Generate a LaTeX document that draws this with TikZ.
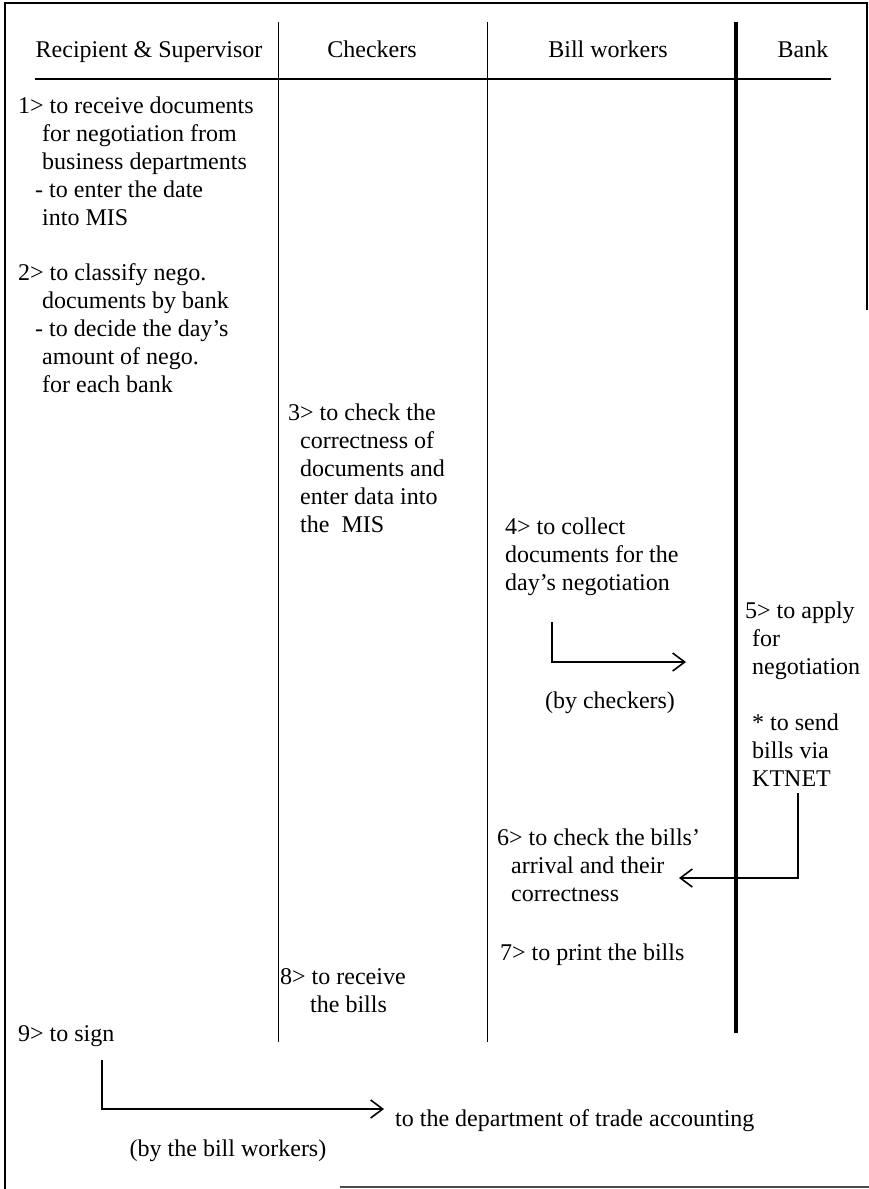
\documentclass[tikz,border=0pt]{standalone}
\usepackage{fontspec}
\setmainfont{Liberation Serif}
\usetikzlibrary{arrows.meta}
\begin{document}
\begin{tikzpicture}[x=1pt,y=-1pt,
  txt/.style={inner sep=0pt, align=left, anchor=north west, font=\fontsize{24}{28}\selectfont},
  one/.style={inner sep=0pt, anchor=base west, font=\fontsize{24}{28}\selectfont},
  hdr/.style={inner sep=0pt, anchor=base, font=\fontsize{24}{28}\selectfont},
  lane/.style={line width=1pt},
  frameline/.style={line width=2.2pt},
  flow/.style={line width=1.6pt, -{Straight Barb[length=12pt,width=18pt,line width=1.6pt]}}
]
\useasboundingbox (0,0) rectangle (869,1189);
% frame
\draw[frameline] (5,1189) -- (5,3) -- (867,3) -- (867,310);
\draw[line width=1.2pt, black!70] (340,1187) -- (869,1187);
% header
\node[hdr] (h1) at (149,57) {Recipient \& Supervisor};
\node[hdr] (h2) at (372,57) {Checkers};
\node[hdr] (h3) at (608,57) {Bill workers};
\node[hdr] (h4) at (803,57) {Bank};
\draw[line width=2pt] (35,79) -- (831,79);
% lanes
\draw[lane] (278,22) -- (278,1042);
\draw[lane] (487,22) -- (487,1042);
\draw[line width=4pt] (736,22) -- (736,1033);
% steps
\node[txt] (s1) at (18,93.4) {\strut 1> to receive documents\\
\hspace*{24pt}for negotiation from\\
\hspace*{24pt}business departments\\
\hspace*{17pt}- to enter the date\\
\hspace*{24pt}into MIS};
\node[txt] (s2) at (18,260.4) {\strut 2> to classify nego.\\
\hspace*{24pt}documents by bank\\
\hspace*{17pt}- to decide the day's\\
\hspace*{24pt}amount of nego.\\
\hspace*{24pt}for each bank};
\node[txt] (s3) at (288,400.4) {\strut 3> to check the\\
\hspace*{12pt}correctness of\\
\hspace*{12pt}documents and\\
\hspace*{12pt}enter data into\\
\hspace*{12pt}the\ \ MIS};
\node[txt] (s4) at (505,514.4) {\strut 4> to collect\\
documents for the\\
day's negotiation};
\node[txt] (s5) at (745,598.4) {\strut 5> to apply\\
\hspace*{7pt}for\\
\hspace*{7pt}negotiation\\[28pt]
\hspace*{7pt}* to send\\
\hspace*{7pt}bills via\\
\hspace*{7pt}KTNET};
\node[txt] (s6) at (497,825.4) {\strut 6> to check the bills'\\
\hspace*{14pt}arrival and their\\
\hspace*{14pt}correctness};
\node[one] (s7) at (500,960) {7> to print the bills};
\node[txt] (s8) at (280,964.4) {\strut 8> to receive\\
\hspace*{30pt}the bills};
\node[one] (s9) at (18,1041) {9> to sign};
\node[one] (dep) at (395,1126) {to the department of trade accounting};
\node[hdr] (byc) at (610,708) {(by checkers)};
\node[hdr] (byb) at (228,1156) {(by the bill workers)};
% arrows
\coordinate (a1s) at (552,622);
\coordinate (a1e) at (686,662);
\draw[flow] (a1s) |- (a1e);
\coordinate (a2s) at (798,793);
\coordinate (a2e) at (679,878);
\draw[flow] (a2s) |- (a2e);
\coordinate (a3s) at (102,1060);
\coordinate (a3e) at (384,1109);
\draw[flow] (a3s) |- (a3e);
\end{tikzpicture}
\end{document}
